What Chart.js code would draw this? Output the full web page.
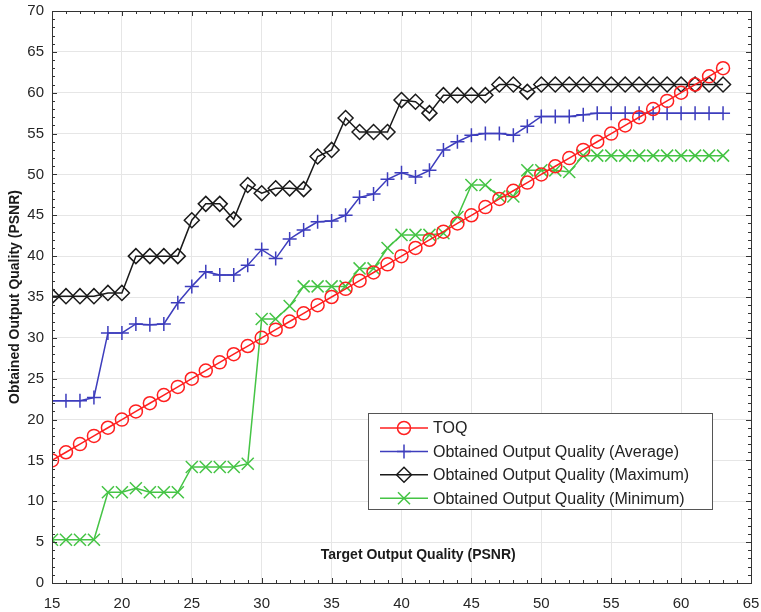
<!DOCTYPE html>
<html>
<head>
<meta charset="utf-8">
<script src="https://cdn.jsdelivr.net/npm/chart.js@4.4.0/dist/chart.umd.min.js"></script>
<style>
  html, body { margin: 0; padding: 0; background: #fff; }
  #wrap { width: 761px; height: 612px; position: relative; }
</style>
</head>
<body>
<div id="wrap"><canvas id="chart"></canvas></div>
<script>
// target output quality (x), one point per integer PSNR
const targetQuality = [15,16,17,18,19,20,21,22,23,24,25,26,27,28,29,30,31,32,33,34,35,36,37,38,39,
  40,41,42,43,44,45,46,47,48,49,50,51,52,53,54,55,56,57,58,59,60,61,62,63];

// TOQ line (target == obtained)
const toqValues = [15,16,17,18,19,20,21,22,23,24,25,26,27,28,29,30,31,32,33,34,35,36,37,38,39,
  40,41,42,43,44,45,46,47,48,49,50,51,52,53,54,55,56,57,58,59,60,61,62,63];

const avgValues = [22.3,22.3,22.3,22.7,30.6,30.6,31.7,31.6,31.7,34.3,36.3,38.1,37.7,37.7,38.9,
  40.8,39.7,42.1,43.2,44.2,44.3,45.0,47.2,47.6,49.4,50.2,49.7,50.5,53.0,54.0,54.8,55.0,55.0,54.8,
  55.9,57.1,57.1,57.1,57.3,57.5,57.5,57.5,57.5,57.5,57.5,57.5,57.5,57.5,57.5];

const maxValues = [35.1,35.1,35.1,35.1,35.5,35.5,40.0,40.0,40.0,40.0,44.4,46.4,46.4,44.5,48.7,
  47.7,48.3,48.3,48.2,52.2,53.0,56.9,55.2,55.2,55.2,59.1,58.9,57.5,59.7,59.7,59.7,59.7,61.0,61.0,
  60.1,61.0,61.0,61.0,61.0,61.0,61.0,61.0,61.0,61.0,61.0,61.0,61.0,61.0,61.0];

const minValues = [5.3,5.3,5.3,5.3,11.1,11.1,11.6,11.1,11.1,11.1,14.2,14.2,14.2,14.2,14.6,
  32.3,32.3,33.9,36.3,36.3,36.3,36.3,38.5,38.5,41.0,42.6,42.6,42.6,42.8,44.8,48.7,48.7,47.3,47.3,
  50.5,50.5,50.5,50.3,52.3,52.3,52.3,52.3,52.3,52.3,52.3,52.3,52.3,52.3,52.3];

const xTitle = 'Target Output Quality (PSNR)';
const yTitle = 'Obtained Output Quality (PSNR)';
const FONT = '"Liberation Sans", Arial, Helvetica, sans-serif';

function pts(ys) {
  return targetQuality.map((x, i) => ({ x, y: ys[i] }));
}

function series(label, ys, color, style, radius) {
  return {
    label,
    data: pts(ys),
    borderColor: color,
    backgroundColor: 'rgba(0,0,0,0)',
    borderWidth: 1.5,
    pointStyle: style,
    pointRadius: radius,
    pointHoverRadius: radius,
    pointBorderColor: color,
    pointBackgroundColor: 'rgba(0,0,0,0)',
    pointBorderWidth: 1.5,
    tension: 0
  };
}

// box, inward ticks on all four sides, and the x title inside the axes
const axesBox = {
  id: 'axesBox',
  afterDatasetsDraw(chart) {
    const { ctx, chartArea: a, scales } = chart;
    const xs = scales.x, ys = scales.y;
    ctx.save();
    ctx.strokeStyle = '#333';
    ctx.lineWidth = 1;
    ctx.beginPath();
    for (let v = 15; v <= 65; v++) {
      const px = Math.round(xs.getPixelForValue(v)) + 0.5;
      const len = v % 5 === 0 ? 5 : 3;
      ctx.moveTo(px, a.bottom); ctx.lineTo(px, a.bottom - len);
      ctx.moveTo(px, a.top); ctx.lineTo(px, a.top + len);
    }
    for (let v = 0; v <= 70; v++) {
      const py = Math.round(ys.getPixelForValue(v)) + 0.5;
      const len = v % 5 === 0 ? 5 : 3;
      ctx.moveTo(a.left, py); ctx.lineTo(a.left + len, py);
      ctx.moveTo(a.right, py); ctx.lineTo(a.right - len, py);
    }
    ctx.stroke();
    ctx.strokeRect(Math.round(a.left) + 0.5, Math.round(a.top) + 0.5,
      Math.round(a.right - a.left), Math.round(a.bottom - a.top));

    ctx.fillStyle = '#1a1a1a';
    ctx.font = 'bold 14px ' + FONT;
    ctx.textAlign = 'center';
    ctx.textBaseline = 'middle';
    ctx.fillText(xTitle, a.left + (a.right - a.left) * 0.524, a.bottom - 28);
    ctx.restore();
  }
};

// legend drawn inside the plot, lower right
const boxLegend = {
  id: 'boxLegend',
  afterDraw(chart) {
    const { ctx, chartArea: a } = chart;
    const x0 = Math.round(a.right - 383), y0 = Math.round(a.bottom - 170);
    const w = 344, h = 96;
    ctx.save();
    ctx.fillStyle = '#fff';
    ctx.fillRect(x0, y0, w, h);
    ctx.strokeStyle = '#555';
    ctx.lineWidth = 1;
    ctx.strokeRect(x0 + 0.5, y0 + 0.5, w, h);
    ctx.font = '16px ' + FONT;
    ctx.textBaseline = 'middle';
    ctx.textAlign = 'left';
    chart.data.datasets.forEach((ds, i) => {
      const y = y0 + 15 + i * 23.4;
      ctx.strokeStyle = ds.borderColor;
      ctx.lineWidth = ds.borderWidth;
      ctx.beginPath();
      ctx.moveTo(x0 + 12, y);
      ctx.lineTo(x0 + 60, y);
      ctx.stroke();
      ctx.fillStyle = 'rgba(0,0,0,0)';
      Chart.helpers.drawPoint(ctx, {
        pointStyle: ds.pointStyle, radius: ds.pointRadius,
        borderWidth: ds.pointBorderWidth, rotation: 0
      }, x0 + 36, y);
      ctx.fillStyle = '#222';
      ctx.fillText(ds.label, x0 + 65, y + 1);
    });
    ctx.restore();
  }
};

new Chart(document.getElementById('chart'), {
  type: 'line',
  data: {
    datasets: [
      series('TOQ', toqValues, '#ff1f1f', 'circle', 6.5),
      series('Obtained Output Quality (Average)', avgValues, '#3d3dbd', 'cross', 7),
      series('Obtained Output Quality (Maximum)', maxValues, '#1a1a1a', 'rectRot', 7.5),
      series('Obtained Output Quality (Minimum)', minValues, '#45c445', 'crossRot', 8.5)
    ]
  },
  options: {
    responsive: true,
    maintainAspectRatio: false,
    animation: false,
    layout: { autoPadding: false, padding: { top: 11, right: 10, left: 0, bottom: 0 } },
    plugins: {
      legend: { display: false },
      tooltip: { enabled: false }
    },
    scales: {
      x: {
        type: 'linear',
        min: 15,
        max: 65,
        afterFit(scale) { scale.height = 29; },
        // tick marks are transparent: only used to push labels down
        grid: { color: '#e6e6e6', drawTicks: true, tickLength: 12, tickColor: 'rgba(0,0,0,0)' },
        border: { display: false },
        ticks: {
          stepSize: 5,
          padding: 0,
          color: '#262626',
          font: { family: FONT, size: 15 }
        }
      },
      y: {
        min: 0,
        max: 70,
        afterFit(scale) { scale.width = 52; },
        grid: { color: '#e6e6e6', drawTicks: true, tickLength: 8, tickColor: 'rgba(0,0,0,0)' },
        border: { display: false },
        ticks: {
          stepSize: 5,
          padding: 0,
          color: '#262626',
          font: { family: FONT, size: 15 }
        },
        title: {
          display: true,
          text: yTitle,
          color: '#1a1a1a',
          font: { family: FONT, size: 14, weight: 'bold' },
          padding: { top: 7, bottom: 0 }
        }
      }
    }
  },
  plugins: [axesBox, boxLegend]
});
</script>
</body>
</html>
